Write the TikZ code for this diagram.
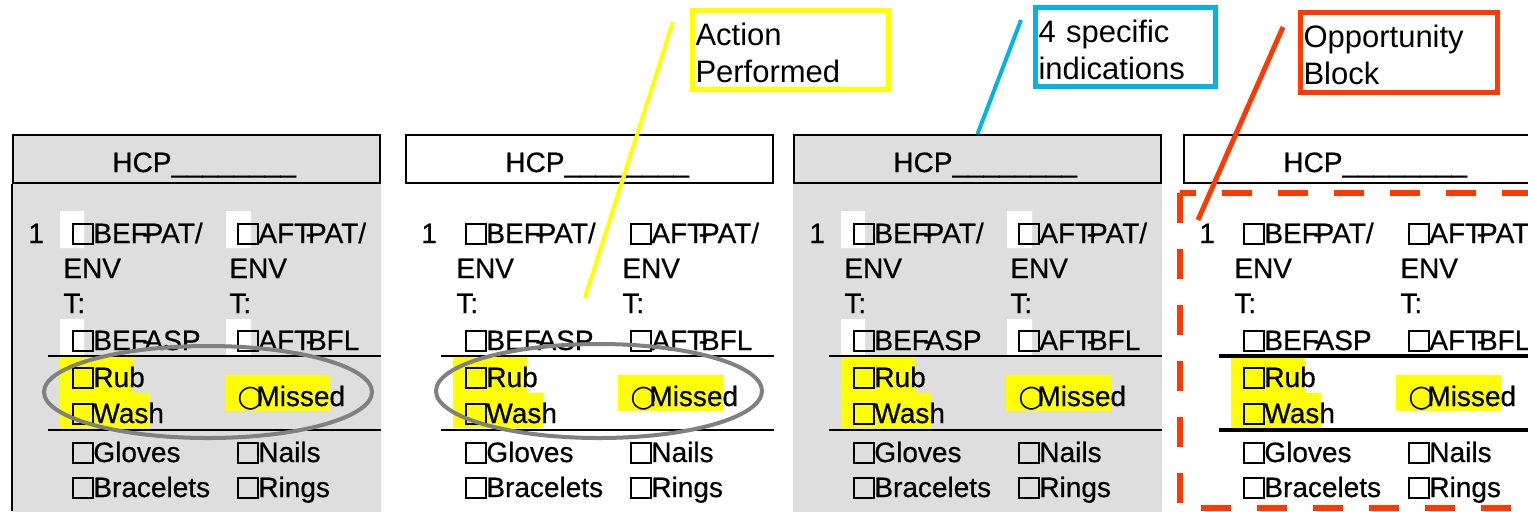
\documentclass[tikz,border=0pt]{standalone}
\usepackage{fontspec}
\setmainfont{Liberation Sans}
\newfontfamily\panelfont{Liberation Sans}[BoldFont=Liberation Sans, BoldFeatures={FakeBold=0.5}]
\newfontfamily\symfont{DejaVu Sans}

\definecolor{panelgray}{RGB}{222,222,222}
\definecolor{hiyellow}{RGB}{255,255,0}
\definecolor{callcyan}{RGB}{0,180,228}
\definecolor{callred}{RGB}{255,58,0}
\definecolor{ringgray}{RGB}{128,128,128}

\newcommand\chk{\makebox[10.5pt][l]{\setlength\fboxsep{0pt}\setlength\fboxrule{1pt}\fbox{\rule{0pt}{8.8pt}\hspace{8.8pt}}}}
\newcommand\rnd{\makebox[9.5pt][l]{\fontsize{15pt}{15pt}\symfont ○}}
\newcommand\hy{\kern-.2em-\kern-.25em}
\newcommand\topstrut{\rule{0pt}{14pt}}

\tikzset{
  pt/.style={anchor=base west, inner sep=0pt, font=\fontsize{14pt}{16pt}\panelfont\bfseries},
  hdr/.style={draw, line width=1pt, anchor=north west, minimum width=183.5pt, minimum height=24pt, inner sep=0pt},
  callout/.style={anchor=north west, line width=2.5pt, align=left, inner xsep=1.5pt,
    font=\fontsize{15.5pt}{18.5pt}\selectfont},
  ring/.style={draw=ringgray, line width=2pt},
}

\begin{document}
\begin{tikzpicture}[x=0.5pt, y=-0.5pt]
\useasboundingbox (0,0) rectangle (1528,511);
\clip (0,0) rectangle (1528,511);

% the four HCP panels
\foreach \px/\bg/\lw/\n in {12/panelgray/0.8pt/1, 405/white/1pt/2, 793/panelgray/1pt/3, 1183/white/1.6pt/4}{
  \begin{scope}[shift={(\px,0)}]
    \path[fill=\bg] (0,184) rectangle (369,520);
    \fill[white] (48,211) rectangle (72,248) (214,211) rectangle (239,248)
                 (48,319) rectangle (72,356) (214,319) rectangle (239,356);
    \fill[hiyellow] (48,357) rectangle (122,393) (48,393) rectangle (138,428)
                    (213,375) rectangle (318,411);
    \node[hdr, fill=\bg] (hdr\n) at (0,134) {};
    \node[pt] (hcp\n) at (100,172) {HCP\_\_\_\_\_\_\_\_};
    % left column
    \node[pt] (num\n) at (16,243) {1};
    \node[pt] (bp\n) at (60,243) {\chk BEF\hy PAT/};
    \node[pt] (benv\n) at (51,278) {ENV};
    \node[pt] (bt\n) at (51,313) {T:};
    \node[pt] (ba\n) at (60,350) {\chk BEF\hy ASP};
    \node[pt] (rub\n) at (60,387) {\chk Rub};
    \node[pt] (wash\n) at (60,423) {\chk Wash};
    \node[pt] (glv\n) at (60,462) {\chk Gloves};
    \node[pt] (brc\n) at (60,497) {\chk Bracelets};
    % right column
    \node[pt] (ap\n) at (225,243) {\chk AFT\hy PAT/};
    \node[pt] (aenv\n) at (217,278) {ENV};
    \node[pt] (at\n) at (217,313) {T:};
    \node[pt] (ab\n) at (225,350) {\chk AFT\hy BFL};
    \node[pt] (mis\n) at (225,406) {\rnd Missed};
    \node[pt] (nls\n) at (225,462) {\chk Nails};
    \node[pt] (rng\n) at (225,497) {\chk Rings};
    \draw[line width=\lw] (36,356) -- (369,356) (36,430) -- (369,430);
  \end{scope}
}
\draw[line width=1pt] (12,184) -- (12,511);

% rings round the action rows
\draw[ring] (208,392) ellipse (164 and 46);
\draw[ring] (599,391) ellipse (163 and 47);

% callouts
\node[callout, draw=hiyellow, text width=95pt, minimum height=39.5pt] (act) at (690,8) {\topstrut Action\\Performed};
\node[callout, draw=callcyan, text width=87pt, minimum height=38pt] (ind) at (1033,5) {\topstrut 4 specific\\indications};
\node[callout, draw=callred, text width=95.5pt, minimum height=40pt] (opp) at (1298,10) {\topstrut Opportunity\\Block};

\coordinate (actFoot) at (673,22);
\coordinate (actTip) at (585,298);
\coordinate (indFoot) at (1021,20);
\coordinate (oppFoot) at (1283,27);
\coordinate (oppTip) at (1198,220);
\draw[hiyellow, line width=2pt] (actFoot) -- (actTip);
\draw[callcyan, line width=2pt] (indFoot) -- (hdr3.north);

% opportunity block
\draw[callred, line width=3pt, dash pattern=on 15pt off 13pt] (1180,193) rectangle (1545,508);
\draw[callred, line width=2.5pt] (oppFoot) -- (oppTip);
\end{tikzpicture}
\end{document}
